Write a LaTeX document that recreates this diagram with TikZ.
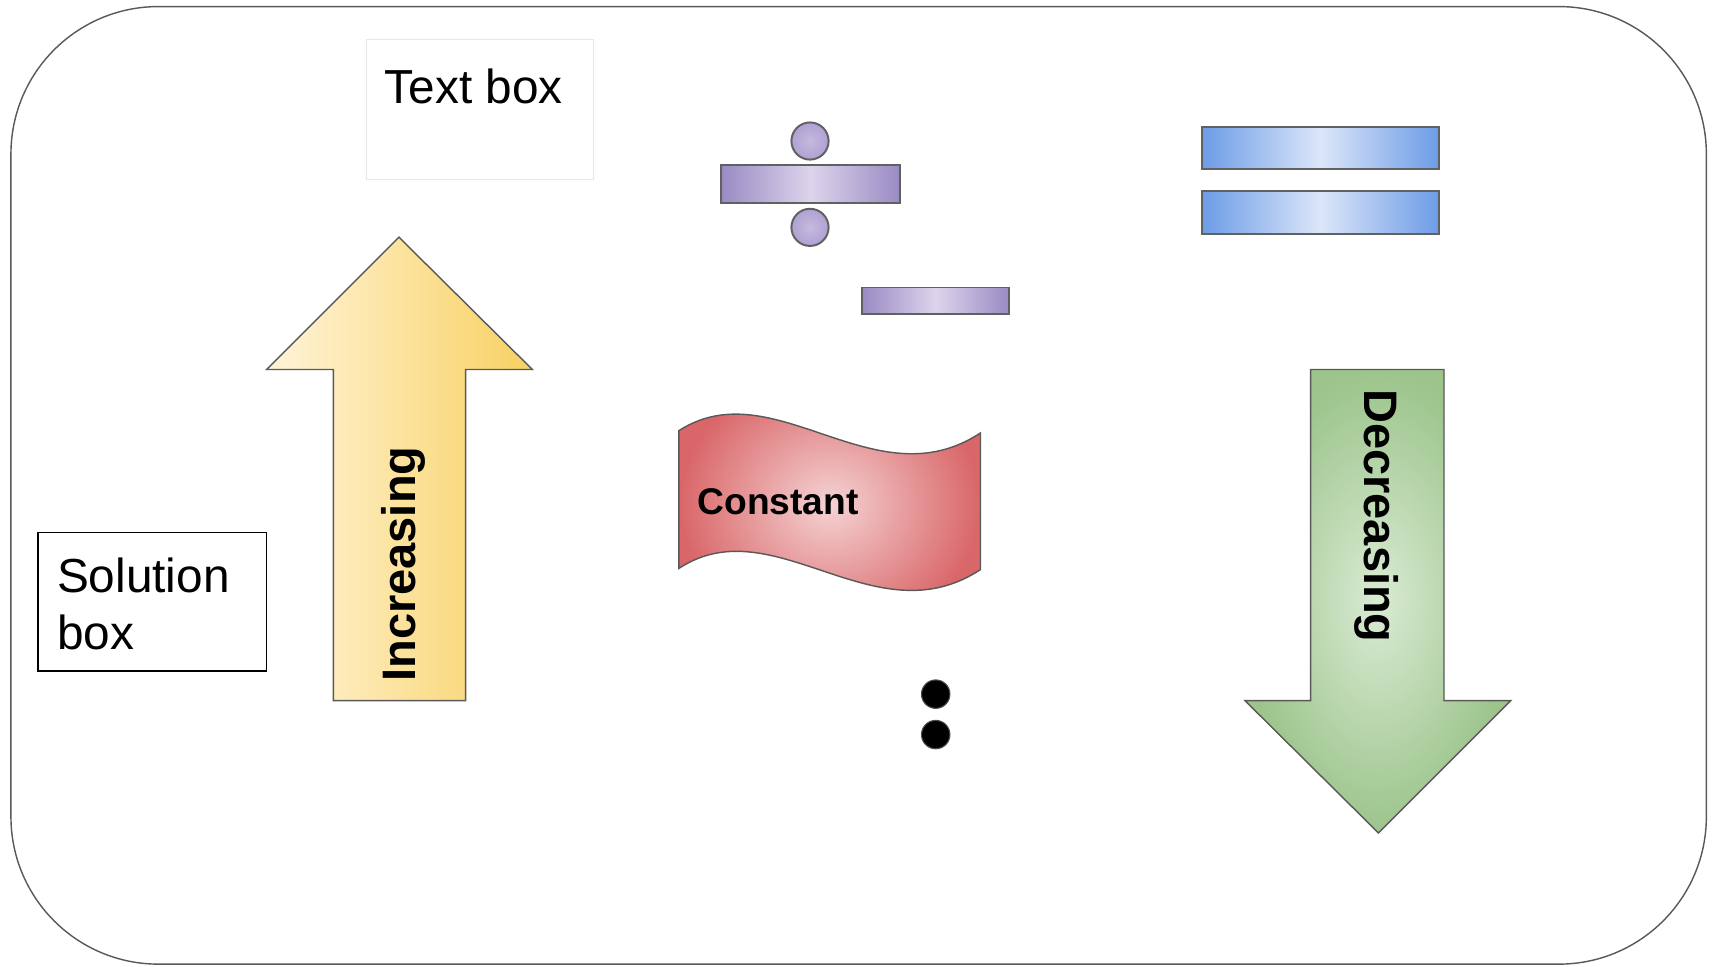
\documentclass[tikz,border=0pt]{standalone}
\usepackage{fontspec}
\setmainfont{Liberation Sans}
\begin{document}
\begin{tikzpicture}[x=1pt,y=-1pt,
  outline/.style={draw=black!65, line width=1.3pt},
  barstyle/.style={draw=black!62, line width=1.8pt, rectangle, inner sep=0pt},
  purplefill/.style={left color=purpleOut, right color=purpleOut, middle color=purpleIn},
  dotfill/.style={inner color=purpleDotIn, outer color=purpleDotOut},
  bluefill/.style={left color=blueOut, right color=blueOut, middle color=blueIn},
  bigtext/.style={font=\fontsize{43.7}{52}\selectfont},
  boldtext/.style={font=\bfseries\fontsize{43}{50}\selectfont}]
\definecolor{purpleIn}{HTML}{DCD4EB}
\definecolor{purpleOut}{HTML}{9A8BC4}
\definecolor{purpleDotIn}{HTML}{C5BADF}
\definecolor{purpleDotOut}{HTML}{AFA1D2}
\definecolor{blueIn}{HTML}{DCE6F9}
\definecolor{blueOut}{HTML}{6D9CE6}
\definecolor{redIn}{HTML}{F5D3D4}
\definecolor{redOut}{HTML}{D96668}
\definecolor{greenIn}{HTML}{DAEBD4}
\definecolor{greenOut}{HTML}{9CC48B}
\definecolor{yellowL}{HTML}{FFF4D9}
\definecolor{yellowR}{HTML}{F8D163}
\useasboundingbox (0,0) rectangle (1568,884);
% outer frame
\draw[outline, rounded corners=135pt] (10,6) rectangle (1561,882);
% text box
\node[draw=black!9, line width=1pt, rectangle, inner sep=0pt, minimum width=208pt, minimum height=128pt] (textbox) at (439,100) {};
\node[anchor=base west, inner sep=0pt, font=\fontsize{43.7}{50}\selectfont] (textlbl) at (352,95) {Text box};
% solution box
\node[draw=black, line width=1.4pt, rectangle, minimum width=209pt, minimum height=127pt, inner sep=0pt] (solbox) at (139.5,550.5) {};
\node[anchor=north west, text width=180pt, inner sep=0pt, align=left, bigtext] (sollbl) at (52,510) {Solution\\box};
% increasing arrow
\draw[outline, left color=yellowL, right color=yellowR] (365,217) -- (487,338) -- (426,338) -- (426,641) -- (305,641) -- (305,338) -- (244,338) -- cycle;
\node[boldtext, rotate=90] (inc) at (369,516) {Increasing};
% division sign
\node[barstyle, dotfill, circle, minimum size=34pt] (divtop) at (741,129) {};
\node[barstyle, purplefill, minimum width=163pt, minimum height=35pt] (divbar) at (741.5,168.5) {};
\node[barstyle, dotfill, circle, minimum size=34pt] (divbot) at (741,208) {};
% minus
\node[barstyle, purplefill, minimum width=134pt, minimum height=24pt] (minus) at (856,275) {};
% equals
\node[barstyle, bluefill, minimum width=216pt, minimum height=39pt] (eqtop) at (1208,135.5) {};
\node[barstyle, bluefill, minimum width=216pt, minimum height=39pt] (eqbot) at (1208,194.5) {};
% constant flag
\draw[outline, inner color=redIn, outer color=redOut] (621,394) .. controls (708,338) and (800,460) .. (897,396) -- (897,521) .. controls (800,585) and (708,463) .. (621,520) -- cycle;
\node[anchor=west, inner sep=0pt, font=\bfseries\fontsize{34}{40}\selectfont] (const) at (638,459) {Constant};
% dots
\node[circle, fill=black, draw=black!70, line width=1pt, minimum size=26pt, inner sep=0pt] (dota) at (856,635) {};
\node[circle, fill=black, draw=black!70, line width=1pt, minimum size=26pt, inner sep=0pt] (dotb) at (856,672) {};
% decreasing arrow
\draw[outline, inner color=greenIn, outer color=greenOut] (1199,338) -- (1321,338) -- (1321,641) -- (1382,641) -- (1261,762) -- (1139,641) -- (1199,641) -- cycle;
\node[boldtext, rotate=-90] (dec) at (1259,472) {Decreasing};
\end{tikzpicture}
\end{document}
